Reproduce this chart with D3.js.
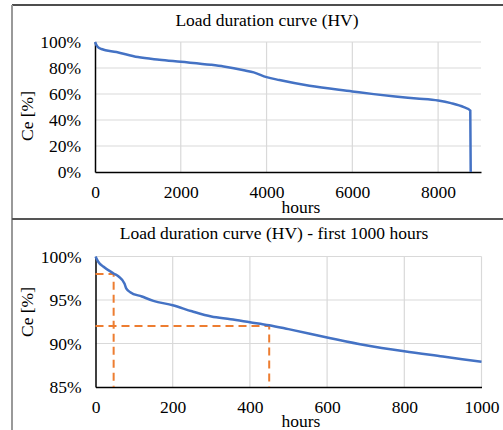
<html><head>
<script src="https://d3js.org/d3.v7.min.js"></script>
<style>
  body { margin: 0; background: #fff; }
  text { font-family: "Liberation Serif", "Times New Roman", serif; fill: #000; }
</style>
</head>
<body>
<div id="chart"></div>
<script>
const svgWidth = 503;
const svgHeight = 430;
const fontSize = 17.5;

// full year curve (hours, Ce %)
const fullHours = [0, 50, 150, 500, 1000, 1500, 2000, 2700, 3000, 3500, 3700, 4000, 4300, 5000, 6000, 6500, 7000, 7500, 8000, 8300, 8600, 8750, 8760];
const fullCe    = [100, 96.7, 94.6, 92.3, 88.4, 86.4, 84.8, 82.5, 81.2, 78.1, 76.6, 73, 70.7, 66.3, 62, 59.9, 58.1, 56.6, 55, 53, 49.9, 47.3, 0];
const fullXTicks = [0, 2000, 4000, 6000, 8000];
const fullYTicks = [0, 20, 40, 60, 80, 100];

// first 1000 hours
const zoomHours = [0, 7, 20, 47, 60, 75, 80, 90, 120, 150, 200, 250, 300, 350, 400, 450, 500, 600, 700, 800, 900, 1000];
const zoomCe    = [100, 99.4, 98.85, 98.05, 97.7, 96.9, 96.3, 95.9, 95.4, 94.9, 94.4, 93.7, 93.1, 92.8, 92.45, 92.1, 91.65, 90.7, 89.8, 89.1, 88.5, 87.9];
const zoomXTicks = [0, 200, 400, 600, 800, 1000];
const zoomYTicks = [85, 90, 95, 100];
// orange dashed markers: [hours, Ce]
const markers = [[47, 98], [450, 92]];

const svg = d3.select("#chart").append("svg")
    .attr("width", svgWidth)
    .attr("height", svgHeight);

// frame lines
svg.append("line").attr("x1", 12).attr("x2", svgWidth).attr("y1", 5).attr("y2", 5)
    .attr("stroke", "#4d4d4d").attr("stroke-width", 2);
svg.append("line").attr("x1", 12).attr("x2", 12).attr("y1", 5).attr("y2", svgHeight)
    .attr("stroke", "#999").attr("stroke-width", 2);
svg.append("line").attr("x1", 12).attr("x2", svgWidth).attr("y1", 219).attr("y2", 219)
    .attr("stroke", "#555").attr("stroke-width", 2);

function drawChart(opt) {
    const g = svg.append("g");
    const x = d3.scaleLinear().domain(opt.xDomain).range([opt.left, opt.right]);
    const y = d3.scaleLinear().domain(opt.yDomain).range([opt.bottom, opt.top]);

    // gridlines
    g.selectAll(".hgrid").data(opt.yTicks.filter(d => d != opt.yDomain[0])).enter()
        .append("line")
        .attr("x1", opt.left).attr("x2", opt.right)
        .attr("y1", d => y(d)).attr("y2", d => y(d))
        .attr("stroke", "#d9d9d9").attr("stroke-width", 1.2);
    g.selectAll(".vgrid").data(opt.xTicks.filter(d => d != opt.xDomain[0])).enter()
        .append("line")
        .attr("x1", d => x(d)).attr("x2", d => x(d))
        .attr("y1", opt.top).attr("y2", opt.bottom)
        .attr("stroke", "#d9d9d9").attr("stroke-width", 1.2);

    // axes
    const leftAxis = d3.axisLeft(y).tickValues(opt.yTicks).tickSize(0).tickPadding(14)
        .tickFormat(d => d + "%");
    const ax = g.append("g").attr("transform", "translate(" + opt.left + ",0)").call(leftAxis);
    ax.select(".domain").attr("stroke", "#000").attr("stroke-width", 1.5);
    ax.selectAll("text").style("font-family", "Liberation Serif").style("font-size", fontSize + "px");

    const bottomAxis = d3.axisBottom(x).tickValues(opt.xTicks).tickSize(0).tickPadding(14)
        .tickFormat(d3.format("d"));
    const bx = g.append("g").attr("transform", "translate(0," + opt.bottom + ")").call(bottomAxis);
    bx.select(".domain").attr("stroke", "#000").attr("stroke-width", 1.5);
    bx.selectAll("text").style("font-family", "Liberation Serif").style("font-size", fontSize + "px");

    // markers
    if (opt.markers) {
        opt.markers.forEach(m => {
            g.append("path")
                .attr("d", "M" + x(0) + "," + y(m[1]) + "H" + x(m[0]) + "V" + opt.bottom)
                .attr("fill", "none")
                .attr("stroke", "#ed7d31")
                .attr("stroke-width", 2)
                .attr("stroke-dasharray", "8,5");
        });
    }

    // curve
    const pts = opt.hours.map((h, i) => [h, opt.ce[i]]);
    g.append("path")
        .datum(pts)
        .attr("fill", "none")
        .attr("stroke", "#4472c4")
        .attr("stroke-width", 2.5)
        .attr("d", d3.line().x(d => x(d[0])).y(d => y(d[1])).curve(d3.curveMonotoneX));

    // titles
    g.append("text").attr("x", opt.titleX).attr("y", opt.titleY)
        .attr("text-anchor", "middle").style("font-size", fontSize + "px").text(opt.title);
    g.append("text").attr("x", 301).attr("y", opt.hoursY)
        .attr("text-anchor", "middle").style("font-size", fontSize + "px").text("hours");
    g.append("text")
        .attr("transform", "translate(" + 33 + "," + opt.ceY + ") rotate(-90)")
        .attr("text-anchor", "middle").style("font-size", fontSize + "px").text("Ce [%]");
}

drawChart({
    hours: fullHours, ce: fullCe,
    xDomain: [0, 9000], yDomain: [0, 100],
    xTicks: fullXTicks, yTicks: fullYTicks,
    left: 95, right: 481, top: 42, bottom: 172,
    title: "Load duration curve (HV)", titleX: 267, titleY: 26,
    hoursY: 213, ceY: 116
});

drawChart({
    hours: zoomHours, ce: zoomCe,
    xDomain: [0, 1000], yDomain: [85, 100],
    xTicks: zoomXTicks, yTicks: zoomYTicks,
    left: 95.5, right: 481.5, top: 256.5, bottom: 387,
    markers: markers,
    title: "Load duration curve (HV) - first 1000 hours", titleX: 274, titleY: 239,
    hoursY: 427, ceY: 312
});
</script>
</body></html>
